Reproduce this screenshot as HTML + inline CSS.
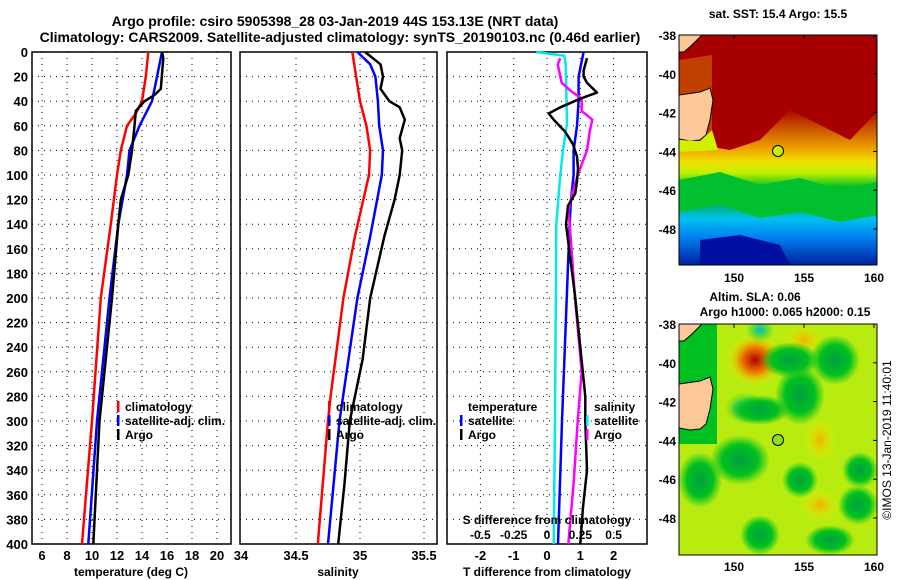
<!DOCTYPE html>
<html><head><meta charset="utf-8"><style>
html,body{margin:0;padding:0;background:#fff}
svg{display:block;font-family:"Liberation Sans",sans-serif;font-weight:bold}
</style></head><body>
<svg id="c" width="900" height="580" viewBox="0 0 900 580">
<defs>
<linearGradient id="sst" x1="0" y1="0" x2="0" y2="1">
<stop offset="0" stop-color="#a80000"/><stop offset="0.32" stop-color="#a80000"/>
<stop offset="0.42" stop-color="#d06000"/><stop offset="0.5" stop-color="#f0a800"/>
<stop offset="0.55" stop-color="#f0e000"/><stop offset="0.6" stop-color="#c0f000"/>
<stop offset="0.66" stop-color="#00c020"/><stop offset="0.74" stop-color="#00b070"/>
<stop offset="0.8" stop-color="#00c0f0"/><stop offset="0.88" stop-color="#0080f0"/>
<stop offset="1" stop-color="#0020a0"/></linearGradient>
<radialGradient id="hot"><stop offset="0" stop-color="#b00000"/><stop offset="0.5" stop-color="#f08000"/><stop offset="1" stop-color="#f0f000" stop-opacity="0"/></radialGradient>
<radialGradient id="org"><stop offset="0" stop-color="#f0b000"/><stop offset="1" stop-color="#f0f000" stop-opacity="0"/></radialGradient>
<radialGradient id="grn"><stop offset="0" stop-color="#00a040"/><stop offset="0.6" stop-color="#00c020"/><stop offset="1" stop-color="#00c020" stop-opacity="0"/></radialGradient>
<radialGradient id="cy"><stop offset="0" stop-color="#00c0d0"/><stop offset="1" stop-color="#00c020" stop-opacity="0"/></radialGradient>
<clipPath id="m1"><rect x="679" y="35" width="198" height="230"/></clipPath>
<clipPath id="m2"><rect x="679" y="324" width="198" height="231"/></clipPath>
</defs>
<text x="335" y="26" text-anchor="middle" font-size="14">Argo profile: csiro 5905398_28 03-Jan-2019 44S 153.13E (NRT data)</text>
<text x="340" y="42" text-anchor="middle" font-size="14">Climatology: CARS2009. Satellite-adjusted climatology: synTS_20190103.nc (0.46d earlier)</text>
<g id="panels"></g>
<g id="maps">
 <g clip-path="url(#m1)">
  <rect x="679" y="35" width="198" height="230" fill="url(#sst)"/>
  <path d="M679,35 H877 V112 L850,140 L820,125 L790,110 L760,140 L730,150 L700,145 L679,130 Z" fill="#a80000"/>
  <path d="M679,60 L712,55 L712,140 L679,140 Z" fill="#c04000"/>
  <path d="M679,180 L720,172 L760,185 L800,178 L840,190 L877,182 V215 L840,222 L800,212 L760,218 L720,205 L679,212 Z" fill="#00c030"/>
  <path d="M700,240 L740,235 L780,245 L790,265 L700,265 Z" fill="#0010a0"/>
  <path d="M679,35 H702 L692,45 L684,52 L679,52 Z" fill="#fcc898" stroke="#000"/>
  <path d="M679,95 L700,92 L710,88 L713,100 L710,120 L706,135 L700,140 L690,141 L679,139 Z" fill="#fcc898" stroke="#000"/>
  <path d="M679,140 L700,141 L712,130 L718,150 L679,152 Z" fill="#d0f000"/>
  <circle cx="778" cy="151" r="5.5" fill="#c8f000" stroke="#000"/>
 </g>
 <rect x="679" y="35" width="198" height="230" fill="none" stroke="#000"/>
 <g clip-path="url(#m2)">
  <rect x="679" y="324" width="198" height="231" fill="#b8ec10"/>
  <rect x="679" y="324" width="38" height="120" fill="#00c020"/>
  <ellipse cx="755" cy="360" rx="28" ry="26" fill="url(#hot)"/>
  <ellipse cx="760" cy="330" rx="14" ry="12" fill="url(#cy)"/>
  <ellipse cx="804" cy="340" rx="20" ry="16" fill="url(#org)"/>
  <ellipse cx="800" cy="395" rx="25" ry="30" fill="url(#grn)"/>
  <ellipse cx="835" cy="360" rx="25" ry="25" fill="url(#grn)"/>
  <ellipse cx="790" cy="360" rx="30" ry="18" fill="url(#grn)"/>
  <ellipse cx="745" cy="408" rx="20" ry="16" fill="url(#cy)"/>
  <ellipse cx="740" cy="460" rx="30" ry="25" fill="url(#grn)"/>
  <ellipse cx="760" cy="410" rx="30" ry="15" fill="url(#grn)"/>
  <ellipse cx="800" cy="480" rx="18" ry="18" fill="url(#grn)"/>
  <ellipse cx="860" cy="470" rx="18" ry="18" fill="url(#grn)"/>
  <ellipse cx="820" cy="440" rx="16" ry="22" fill="url(#org)"/>
  <ellipse cx="820" cy="505" rx="20" ry="16" fill="url(#org)"/>
  <ellipse cx="858" cy="505" rx="20" ry="20" fill="url(#grn)"/>
  <ellipse cx="760" cy="535" rx="20" ry="20" fill="url(#grn)"/>
  <ellipse cx="830" cy="540" rx="25" ry="15" fill="url(#grn)"/>
  <ellipse cx="700" cy="480" rx="22" ry="28" fill="url(#grn)"/>
  <path d="M679,324 H702 L692,334 L684,341 L679,341 Z" fill="#fcc898" stroke="#000"/>
  <path d="M679,384 L700,381 L710,377 L713,389 L710,409 L706,424 L700,429 L690,430 L679,428 Z" fill="#fcc898" stroke="#000"/>
  <circle cx="778" cy="440" r="5.5" fill="#90e020" stroke="#000"/>
 </g>
 <rect x="679" y="324" width="198" height="231" fill="none" stroke="#000"/>
 <text x="778" y="18" text-anchor="middle" font-size="12">sat. SST: 15.4 Argo: 15.5</text>
 <text x="755" y="301" text-anchor="middle" font-size="12">Altim. SLA: 0.06</text>
 <text x="785" y="316" text-anchor="middle" font-size="12">Argo h1000: 0.065 h2000: 0.15</text>
 <text transform="translate(891,440) rotate(-90)" text-anchor="middle" font-size="12" font-weight="normal">©IMOS 13-Jan-2019 11:40:01</text>
</g>
</svg>
<script>
// ---- data ----
const tempDepthClim=[0,20,40,50,60,80,100,140,200,300,400];
const tempClim=[14.5,14.3,14.0,13.5,12.8,12.3,12.0,11.5,10.7,10.0,9.2];
const tempDepthSat=[0,20,40,60,80,100,140,200,300,400];
const tempSat=[15.6,15.2,14.8,13.8,13.0,12.8,12.1,11.4,10.4,9.7];
const tempDepthArgo=[0,5,30,35,40,48,60,80,100,120,140,200,300,400];
const tempArgo=[15.6,15.7,15.5,15.0,14.2,13.5,13.4,13.2,12.9,12.3,12.1,11.6,10.6,10.1];
const salDepthClim=[0,40,60,80,100,150,200,280,300,400];
const salClim=[34.94,35.0,35.05,35.08,35.07,34.96,34.87,34.77,34.75,34.67];
const salDepthSat=[0,10,20,40,60,80,100,150,200,300,400];
const salSat=[34.98,35.08,35.12,35.14,35.15,35.18,35.17,35.08,34.98,34.84,34.75];
const salDepthArgo=[0,10,20,30,40,45,55,70,80,100,120,150,200,250,300,350,400];
const salArgo=[35.04,35.16,35.18,35.16,35.23,35.31,35.35,35.31,35.33,35.31,35.27,35.19,35.08,35.02,34.92,34.88,34.83];
const diffDepthSSat=[0,3,10,58,80,100,140,300,400];
const diffSSat=[-0.08,0.13,0.14,0.15,0.12,0.10,0.07,0.06,0.05];
const diffDepthTSat=[0,20,40,60,80,100,120,140,300,400];
const diffTSat=[1.1,0.95,0.95,0.9,0.8,0.8,0.72,0.68,0.45,0.33];
const diffDepthSArgo=[5,10,25,31,38,48,55,65,80,100,115,130,140,200,260,300,350,400];
const diffSArgo=[0.10,0.08,0.11,0.17,0.26,0.26,0.34,0.32,0.30,0.23,0.19,0.16,0.17,0.21,0.26,0.23,0.20,0.16];
const diffDepthTArgo=[5,15,20,25,33,38,45,50,55,65,75,85,95,105,115,125,140,200,280,300,340,370,400];
const diffTArgo=[1.2,1.1,1.1,1.2,1.5,1.0,0.4,0.05,0.2,0.55,0.78,0.9,0.93,0.9,0.85,0.63,0.57,0.85,1.15,1.15,1.2,1.08,1.0];
const depthTicks=[0,20,40,60,80,100,120,140,160,180,200,220,240,260,280,300,320,340,360,380,400];
const tempTicks=[6,8,10,12,14,16,18,20];
const salTicks=[34,34.5,35,35.5];
const salTickLabels=["34","34.5","35","35.5"];
const tdiffTicks=[-2,-1,0,1,2];
const sdiffTicks=[-0.5,-0.25,0,0.25,0.5];
const sdiffLabels=["-0.5","-0.25","0","0.25","0.5"];
const latTicks=[-38,-40,-42,-44,-46,-48];
const lonTicks=[150,155,160];

// ---- axes ----
const Y=d=>52+d*1.23;
const xT=t=>42+(t-6)*12.5;
const xS=s=>296+(s-34.5)*128;
const xD=t=>547+t*33.3;
const xSD=s=>547+s*133.3;
const NS='http://www.w3.org/2000/svg';
const g=document.getElementById('panels');
function mk(tag,at,parent){const e=document.createElementNS(NS,tag);for(const k in at)e.setAttribute(k,at[k]);(parent||g).appendChild(e);return e;}
function txt(x,y,s,anchor,size,parent){const e=mk('text',{x:x,y:y,'text-anchor':anchor,'font-size':size},parent);e.textContent=s;return e;}
function line(xs,ds,fx,col,name){
  const p=xs.map((v,i)=>fx(v).toFixed(1)+','+Y(ds[i]).toFixed(1)).join(' ');
  const e=mk('polyline',{points:p,fill:'none',stroke:col,'stroke-width':2.5,'stroke-linejoin':'round'});
  
  
}
function frame(x0,x1,gx,name){
  const fr=mk('g',{});
  
  
  depthTicks.slice(1,-1).forEach(d=>mk('line',{x1:x0,x2:x1,y1:Y(d),y2:Y(d),stroke:'#000','stroke-dasharray':'1,5'},fr));
  gx.forEach(x=>{if(x>x0+2&&x<x1-2)mk('line',{x1:x,x2:x,y1:Y(0),y2:Y(400),stroke:'#000','stroke-dasharray':'1,5'},fr);});
  mk('rect',{x:x0,y:Y(0),width:x1-x0,height:Y(400)-Y(0),fill:'none',stroke:'#000','stroke-width':1.5},fr);
  return fr;
}
// panel 1
const f1=frame(32,231,tempTicks.map(xT),'temperature-panel');
depthTicks.forEach(d=>{const e=txt(28,Y(d)+5,String(d),'end',13);});
tempTicks.forEach(t=>{const e=txt(xT(t),560,String(t),'middle',13);});
txt(131,576,'temperature (deg C)','middle',12);
line(tempClim,tempDepthClim,xT,'#ff0000','temp-climatology-line');
line(tempSat,tempDepthSat,xT,'#0000ff','temp-satellite-line');
line(tempArgo,tempDepthArgo,xT,'#000','temp-argo-line');
// panel 2
frame(240,437,salTicks.map(xS),'salinity-panel');
salTicks.forEach((s,i)=>{const e=txt(Math.max(xS(s),241),560,salTickLabels[i],'middle',13);});
txt(338,576,'salinity','middle',12);
line(salClim,salDepthClim,xS,'#ff0000','sal-climatology-line');
line(salSat,salDepthSat,xS,'#0000ff','sal-satellite-line');
line(salArgo,salDepthArgo,xS,'#000','sal-argo-line');
// panel 3
frame(447,647,tdiffTicks.map(xD),'difference-panel');
tdiffTicks.forEach(t=>{const e=txt(xD(t),560,String(t),'middle',13);});
txt(547,576,'T difference from climatology','middle',12);
line(diffSSat,diffDepthSSat,xSD,'#00e8f0','sdiff-satellite-line');
line(diffTSat,diffDepthTSat,xD,'#0000ff','tdiff-satellite-line');
line(diffSArgo,diffDepthSArgo,xSD,'#ff00ff','sdiff-argo-line');
line(diffTArgo,diffDepthTArgo,xD,'#000','tdiff-argo-line');
txt(547,524,'S difference from climatology','middle',12);
sdiffTicks.forEach((s,i)=>{const e=txt(xSD(s),539,sdiffLabels[i],'middle',12);});
// legends
function leg(x,y,col,label,name){
  const lg=mk('g',{});
  
  
  if(col)mk('rect',{x:x-8,y:y-10,width:2.5,height:11,fill:col},lg);
  txt(x,y,label,'start',12,lg);
}
leg(125,411,'#ff0000','climatology','legend-temp-climatology');
leg(125,425,'#0000ff','satellite-adj. clim.','legend-temp-satellite');
leg(125,439,'#000','Argo','legend-temp-argo');
leg(336,411,'#ff0000','climatology','legend-sal-climatology');
leg(336,425,'#0000ff','satellite-adj. clim.','legend-sal-satellite');
leg(336,439,'#000','Argo','legend-sal-argo');
leg(468,411,null,'temperature','legend-temperature-header');
leg(468,425,'#0000ff','satellite','legend-tdiff-satellite');
leg(468,439,'#000','Argo','legend-tdiff-argo');
leg(594,411,null,'salinity','legend-salinity-header');
leg(594,425,'#00e8f0','satellite','legend-sdiff-satellite');
leg(594,439,'#ff00ff','Argo','legend-sdiff-argo');
// map axes
const mapsG=document.getElementById('maps');
const latY1=l=>35+(-38-l)*19.4, latY2=l=>324+(-38-l)*19.4, lonX=l=>734+(l-150)*14;
latTicks.forEach(l=>{
  [latY1,latY2].forEach(f=>{
    const e=txt(676,f(l)+5,String(l),'end',12,mapsG);
    
    
    mk('line',{x1:873,x2:877,y1:f(l),y2:f(l),stroke:'#000'},mapsG);
  });
});
lonTicks.forEach(l=>{
  [282,571].forEach(y=>{
    const e=txt(lonX(l),y,String(l),'middle',12,mapsG);
    
    
  });
  mk('line',{x1:lonX(l),x2:lonX(l),y1:35,y2:39,stroke:'#000'},mapsG);
  mk('line',{x1:lonX(l),x2:lonX(l),y1:324,y2:328,stroke:'#000'},mapsG);
});
</script>
</body></html>
